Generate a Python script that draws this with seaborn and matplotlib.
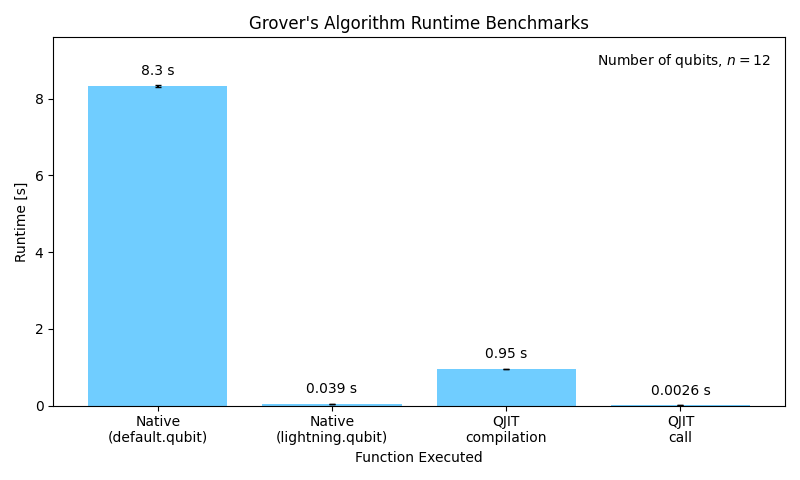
import matplotlib
matplotlib.use("Agg")
import matplotlib.pyplot as plt
import seaborn as sns
import pandas as pd

categories = ["Native\n(default.qubit)", "Native\n(lightning.qubit)", "QJIT\ncompilation", "QJIT\ncall"]
runtimes = [8.33, 0.039, 0.95, 0.0026]
errors = [0.02, 0.01, 0.01, 0.001]
labels = ["8.3 s", "0.039 s", "0.95 s", "0.0026 s"]

df = pd.DataFrame({"cat": categories, "rt": runtimes})
fig, ax = plt.subplots(figsize=(8, 4.8), dpi=100)
sns.barplot(data=df, x="cat", y="rt", color="#70cdff", saturation=1, width=0.8, ax=ax, errorbar=None)
ax.errorbar(range(len(categories)), runtimes, yerr=errors, fmt="none", ecolor="black", capsize=2)
for i, (v, l) in enumerate(zip(runtimes, labels)):
    ax.text(i, v + 0.2, l, ha="center", va="bottom", fontsize=10)
ax.set_ylim(0, 9.6)
ax.set_xlim(-0.6, 3.6)
ax.set_xlabel("Function Executed")
ax.set_ylabel("Runtime [s]")
ax.set_title("Grover's Algorithm Runtime Benchmarks")
ax.text(0.98, 0.96, "Number of qubits, $n = 12$", transform=ax.transAxes, ha="right", va="top")
fig.tight_layout()
fig.savefig("out.png")
